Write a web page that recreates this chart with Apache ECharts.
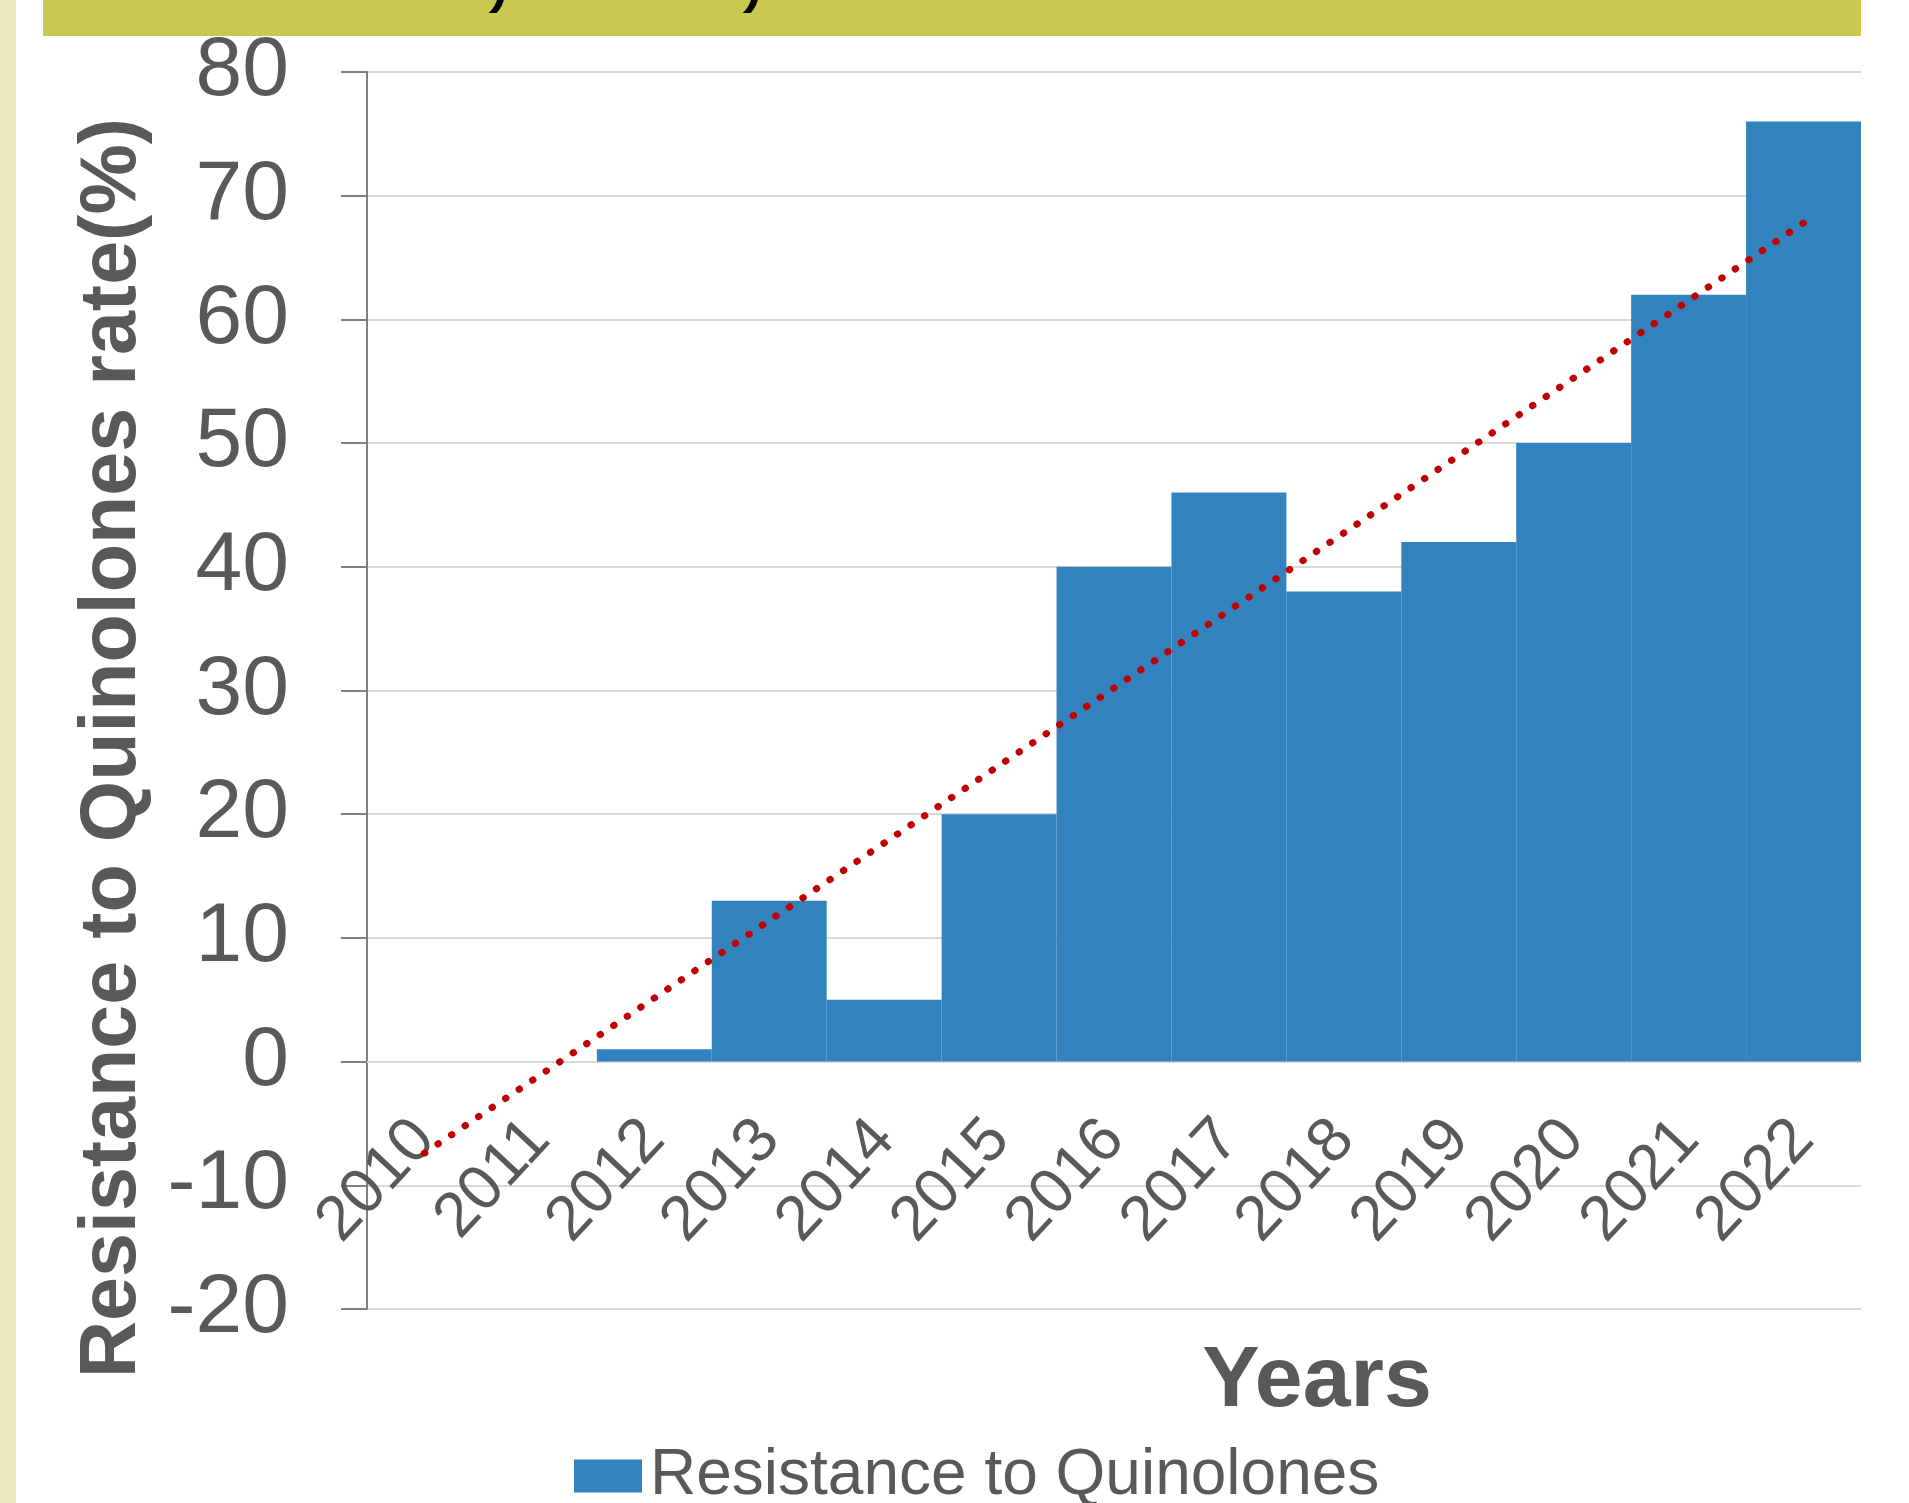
<!DOCTYPE html>
<html>
<head>
<meta charset="utf-8">
<script src="https://cdn.jsdelivr.net/npm/echarts@6/dist/echarts.min.js"></script>
<style>
html,body{margin:0;padding:0;background:#fff;}
#chart{width:1909px;height:1503px;}
</style>
</head>
<body>
<div id="chart"></div>
<script>
// ---- data ----
const years = ['2010','2011','2012','2013','2014','2015','2016','2017','2018','2019','2020','2021','2022'];
const resistance = [0, 0, 1, 13, 5, 20, 40, 46, 38, 42, 50, 62, 76];
// linear trendline end points
const trendYears = ['2010', '2022'];
const trendValues = [-7.4, 67.8];
const yTicks = { min: -20, max: 80, step: 10 };
const seriesName = 'Resistance to Quinolones';
const yTitle = 'Resistance to Quinolones rate(%)';
const xTitle = 'Years';

const FONT = '"Liberation Sans", Arial, Helvetica, sans-serif';
const GREY = '#595959';

const GRID = { left: 367, right: 48, top: 72, bottom: 194 };
const plotH = 1503 - GRID.top - GRID.bottom;
// distance from bottom of plot to the zero value line (category axis crosses at 0)
const zeroOffset = plotH * (0 - yTicks.min) / (yTicks.max - yTicks.min);

const chart = echarts.init(document.getElementById('chart'), null, {renderer: 'canvas'});
chart.setOption({
  backgroundColor: '#ffffff',
  animation: false,
  textStyle: { fontFamily: FONT },
  grid: Object.assign({ containLabel: false }, GRID),
  legend: {
    data: [seriesName],
    left: 574, top: 1444,
    padding: 0,
    icon: 'rect',
    itemWidth: 68, itemHeight: 33,
    textStyle: { fontSize: 64, color: GREY, fontFamily: FONT, padding: [0, 0, 0, 3] }
  },
  xAxis: {
    type: 'category',
    data: years,
    boundaryGap: true,
    position: 'bottom',
    offset: -zeroOffset,
    axisLine: { show: true, onZero: false, lineStyle: { color: '#d9d9d9', width: 2 } },
    axisTick: { show: false },
    splitLine: { show: false },
    axisLabel: { interval: 0, rotate: 47, fontSize: 63, color: GREY, margin: 68, fontFamily: FONT }
  },
  yAxis: {
    type: 'value',
    min: yTicks.min, max: yTicks.max, interval: yTicks.step,
    axisLine: { show: true, lineStyle: { color: '#7f7f7f', width: 2 } },
    axisTick: { show: true, length: 26, lineStyle: { color: '#7f7f7f', width: 2 } },
    splitLine: { show: true, lineStyle: { color: '#d9d9d9', width: 2 } },
    axisLabel: { fontSize: 84, color: GREY, margin: 78, fontFamily: FONT }
  },
  series: [
    {
      name: seriesName,
      type: 'bar',
      data: resistance,
      barWidth: '100%',
      barCategoryGap: 0,
      itemStyle: { color: '#3182bd' },
      z: 2
    },
    {
      name: 'Linear trend',
      type: 'line',
      data: trendYears.map((y, i) => [y, trendValues[i]]),
      symbol: 'none',
      lineStyle: { color: '#c00000', width: 7, type: [0.5, 15.8], cap: 'round' },
      z: 5
    }
  ],
  graphic: [
    { type: 'rect', left: 0, top: 0, shape: { x: 0, y: 0, width: 16, height: 1503 }, style: { fill: '#eaeabd' }, silent: true },
    { type: 'rect', shape: { x: 43, y: 0, width: 1818, height: 36 }, style: { fill: '#c9c850' }, silent: true },
    { type: 'text', x: 502, y: -26, style: { text: ',', fill: '#000', font: 'italic bold 90px ' + FONT, textAlign: 'center', textVerticalAlign: 'middle' }, silent: true },
    { type: 'text', x: 756, y: -26, style: { text: ',', fill: '#000', font: 'italic bold 90px ' + FONT, textAlign: 'center', textVerticalAlign: 'middle' }, silent: true },
    { type: 'text', x: 113, y: 748, rotation: Math.PI / 2, style: { text: yTitle, fill: GREY, font: 'bold 79px ' + FONT, textAlign: 'center', textVerticalAlign: 'middle' }, silent: true },
    { type: 'text', x: 1317, y: 1382, style: { text: xTitle, fill: GREY, font: 'bold 86px ' + FONT, textAlign: 'center', textVerticalAlign: 'middle' }, silent: true }
  ]
});
</script>
</body>
</html>
